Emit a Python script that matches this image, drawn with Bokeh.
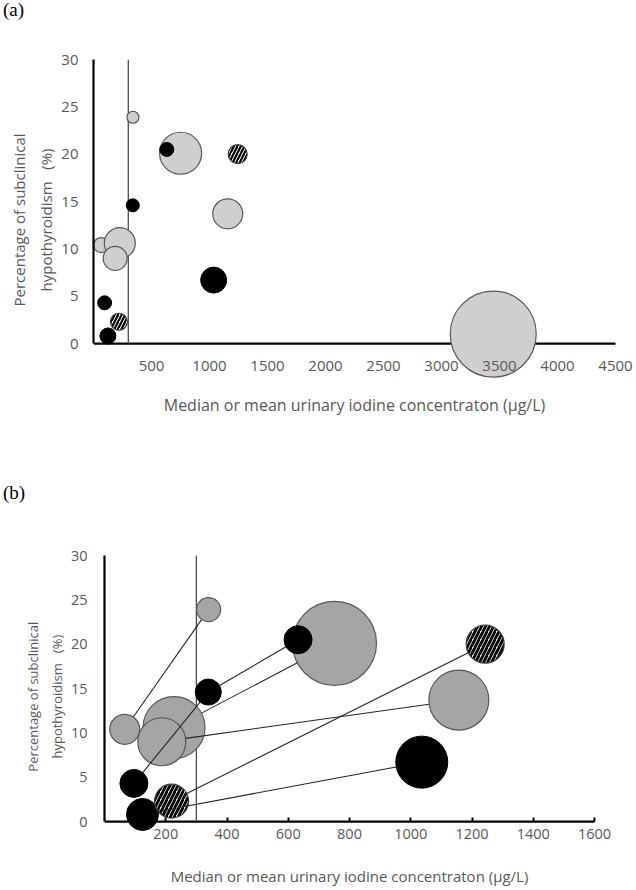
import numpy as np
from bokeh.plotting import figure
from bokeh.layouts import column
from bokeh.models import FixedTicker, Div
from bokeh.embed import file_html
from bokeh.resources import INLINE

# ---- data ----
uic = [340, 66, 227, 187, 96, 124, 219, 339, 632, 751, 1243, 1157, 1036, 3446]   # µg/L
sch = [23.9, 10.4, 10.6, 9.0, 4.3, 0.8, 2.3, 14.6, 20.5, 20.1, 20.0, 13.7, 6.7, 1.0]  # %
bubble = [12, 15, 31, 24, 14, 16, 17, 13, 14, 42, 19, 30, 26, 86]  # relative bubble size
group = ["grey", "grey", "grey", "grey", "black", "black", "hatched", "black",
         "black", "grey", "hatched", "grey", "black", "grey"]
pair_start = [1, 4, 7, 2, 3, 6, 5]
pair_end = [0, 7, 8, 9, 11, 10, 12]
threshold = 300
y_ticks = [0, 5, 10, 15, 20, 25, 30]
x_ticks_a = [500, 1000, 1500, 2000, 2500, 3000, 3500, 4000, 4500]
x_ticks_b = [200, 400, 600, 800, 1000, 1200, 1400, 1600]

X_LABEL = "Median or mean urinary iodine concentraton (µg/L)"
Y_LINE1 = "Percentage of subclinical"
Y_LINE2 = "hypothyroidism\u00a0\u00a0\u00a0(%)"
FONT = "Open Sans"
TXT = "#595959"


def make_panel(x_max, x_ticks, y_start, fw_axis, extra_right, fh, left, top, bottom,
               scale, grey_fill, hatch_scale, hatch_weight, tick_in,
               tick_fs, xlab_fs, ylab_fs, tick_standoff, xlab_standoff,
               ytick_standoff, ylab_standoff, ylab_pad, connect):
    y_max = 30
    px_per_x = fw_axis / x_max
    x_end = x_max + extra_right / px_per_x
    fw = fw_axis + extra_right
    p = figure(frame_width=fw, frame_height=fh, x_range=(0, x_end), y_range=(y_start, y_max),
               output_backend="svg", toolbar_location=None,
               min_border_left=left, min_border_top=top, min_border_bottom=bottom,
               min_border_right=0)
    p.grid.visible = False
    p.outline_line_color = None
    p.background_fill_color = "white"
    p.border_fill_color = "white"

    # x axis line (drawn beneath bubbles)
    p.segment(x0=[0], y0=[0], x1=[x_max], y1=[0], line_color="black", line_width=2.2)
    # threshold line
    p.segment(x0=[threshold], y0=[0], x1=[threshold], y1=[y_max],
              line_color="#4d4d4d", line_width=1.3)

    xs = np.array(uic, dtype=float)
    ys = np.array(sch, dtype=float)
    r = np.array(bubble, dtype=float) * scale
    g = np.array(group)

    for name in ["grey", "black", "hatched"]:
        m = g == name
        if name == "grey":
            p.scatter(xs[m], ys[m], size=2 * r[m], fill_color=grey_fill,
                      line_color="#595959", line_width=1.2)
        elif name == "black":
            p.scatter(xs[m], ys[m], size=2 * r[m], fill_color="black",
                      line_color="black", line_width=1)
        else:
            p.scatter(xs[m], ys[m], size=2 * r[m], fill_color="white",
                      line_color="#404040", line_width=1.2,
                      hatch_pattern="/", hatch_color="black",
                      hatch_scale=hatch_scale, hatch_weight=hatch_weight)

    if connect:
        sy = fh / (y_max - y_start)
        i0 = np.array(pair_start)
        i1 = np.array(pair_end)
        dx = (xs[i1] - xs[i0]) * px_per_x
        dy = (ys[i1] - ys[i0]) * sy
        L = np.hypot(dx, dy)
        x0 = xs[i0] + dx * (r[i0] / L) / px_per_x
        y0 = ys[i0] + dy * (r[i0] / L) / sy
        x1 = xs[i1] - dx * (r[i1] / L) / px_per_x
        y1 = ys[i1] - dy * (r[i1] / L) / sy
        p.segment(x0=x0, y0=y0, x1=x1, y1=y1, line_color="#262626", line_width=1.1)

    # axes
    xa = p.xaxis[0]
    xa.fixed_location = 0
    xa.bounds = (0, x_max)
    xa.ticker = FixedTicker(ticks=x_ticks)
    xa.axis_line_color = None
    xa.major_tick_in = tick_in
    xa.major_tick_out = 0
    xa.major_tick_line_color = "black"
    xa.major_tick_line_width = 2
    xa.minor_tick_line_color = None
    xa.major_label_standoff = tick_standoff
    xa.major_label_text_font = FONT
    xa.major_label_text_font_size = tick_fs
    xa.major_label_text_color = TXT
    xa.axis_label = X_LABEL
    xa.axis_label_standoff = xlab_standoff
    xa.axis_label_text_font = FONT
    xa.axis_label_text_font_size = xlab_fs
    xa.axis_label_text_font_style = "normal"
    xa.axis_label_text_color = TXT

    pad = "\u00a0" * ylab_pad
    ya = p.yaxis[0]
    ya.bounds = (0, y_max)
    ya.ticker = FixedTicker(ticks=y_ticks)
    ya.axis_line_color = "black"
    ya.axis_line_width = 2.2
    ya.major_tick_in = 0
    ya.major_tick_out = 0
    ya.minor_tick_line_color = None
    ya.major_label_standoff = ytick_standoff
    ya.major_label_text_font = FONT
    ya.major_label_text_font_size = tick_fs
    ya.major_label_text_color = TXT
    ya.axis_label = pad + Y_LINE1 + "\n" + pad + Y_LINE2
    ya.axis_label_standoff = ylab_standoff
    ya.axis_label_text_font = FONT
    ya.axis_label_text_font_size = ylab_fs
    ya.axis_label_text_font_style = "normal"
    ya.axis_label_text_color = TXT
    ya.axis_label_text_line_height = 1.35
    return p


def tag_div(text, h):
    return Div(text=text, width=60, height=h,
               styles={"font-family": "Liberation Serif", "font-size": "19px",
                       "color": "black", "padding-left": "3px", "line-height": "20px",
                       "margin": "0"})


pa = make_panel(4500, x_ticks_a, -7.6, 522, 19, 356, 93, 39, 68,
                0.5, "#d0cece", 7, 2.2, 0,
                "15px", "16px", "15px", 17, 20, 15, 2, 9, False)
pb = make_panel(1600, x_ticks_b, -7.55, 490, 22, 333, 104, 52, 0,
                1.0, "#a5a5a5", 8, 2.8, 4,
                "14.5px", "15px", "13px", 7, 24, 17, 2, 15, True)

root_a = column(tag_div("(a)", 20), pa, spacing=0)
root_b = column(tag_div("(b)", 20), pb, spacing=0)
open("out.html", "w").write(file_html([root_a, root_b], INLINE))
